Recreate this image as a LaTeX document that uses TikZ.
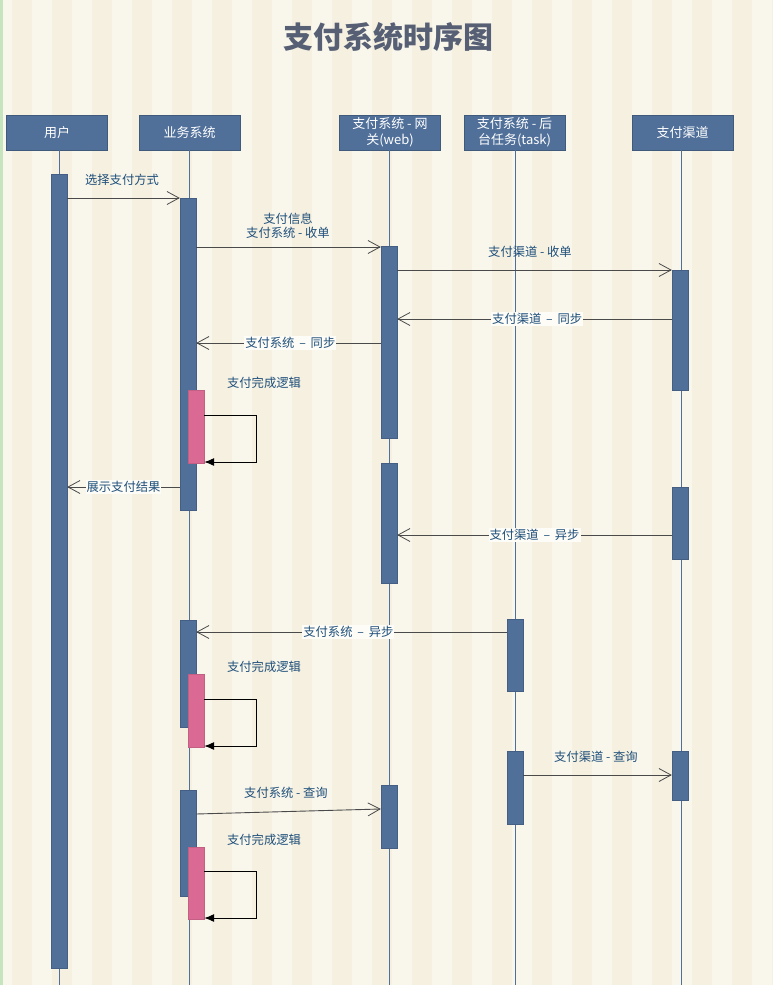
\documentclass[tikz,border=0pt]{standalone}
\usepackage{fontspec}
\setmainfont{Noto Sans CJK SC}
\usetikzlibrary{arrows.meta}
\definecolor{bgc}{HTML}{F9F7EC}
\definecolor{stripec}{HTML}{F5F0E0}
\definecolor{boxc}{HTML}{50709A}
\definecolor{pinkc}{HTML}{DA6A93}
\definecolor{txtc}{HTML}{1F4F7A}
\definecolor{titlec}{HTML}{565F74}
\definecolor{msgc}{HTML}{4A4A4A}
\definecolor{edgec}{HTML}{C6E4BE}
\tikzset{
  head/.style={draw=boxc!80!black, line width=0.6pt, fill=boxc, text=white, minimum width=101pt, minimum height=35pt, inner sep=1pt, align=center, font=\fontsize{13}{15.5}\selectfont},
  bar/.style={fill=boxc, draw=boxc!85!black, line width=0.4pt, minimum width=16pt, inner sep=0pt, anchor=north},
  pbar/.style={fill=pinkc, draw=pinkc!90!black, line width=0.4pt, minimum width=16pt, inner sep=0pt, anchor=north},
  life/.style={draw=boxc, line width=0.8pt},
  msg/.style={draw=msgc, line width=0.9pt, -{Straight Barb[length=12pt,width=13pt,line width=0.8pt]}},
  selfmsg/.style={draw=black, line width=0.9pt, -{Latex[length=10pt,width=8pt]}},
  lbl/.style={text=txtc, font=\fontsize{12.3}{14.5}\selectfont, inner sep=1pt},
  ilbl/.style={lbl, fill=bgc!40!white}
}
\begin{document}
\begin{tikzpicture}[x=1pt,y=-1pt]
\useasboundingbox (0,0) rectangle (772,985);
\fill[bgc] (0,0) rectangle (772,985);
\foreach \s in {12,52,...,772} {\fill[stripec] (\s,0) rectangle (\s+20,985);}
\fill[edgec] (0,0) rectangle (2.5,985);
% title
\node[text=titlec, font=\fontsize{30}{34}\bfseries\selectfont] (title) at (388,37) {支付系统时序图};
% headers
\node[head] (hu) at (57,132.5) {用户};
\node[head] (hb) at (189.5,132.5) {业务系统};
\node[head] (hg) at (390,132.5) {支付系统 - 网\\关(web)};
\node[head] (ht) at (514.5,132.5) {支付系统 - 后\\台任务(task)};
\node[head] (hc) at (682.5,132.5) {支付渠道};
% lifelines
\coordinate (eu) at (59,985);
\coordinate (eb) at (189,985);
\coordinate (eg) at (389,985);
\coordinate (et) at (515,985);
\coordinate (ec) at (681,985);
\draw[life] (hu.south -| eu) -- (eu);
\draw[life] (hb.south -| eb) -- (eb);
\draw[life] (hg.south -| eg) -- (eg);
\draw[life] (ht.south -| et) -- (et);
\draw[life] (hc.south -| ec) -- (ec);
% activation bars
\node[bar, minimum height=794pt] (u1) at (59,174) {};
\node[bar, minimum height=312pt] (b1) at (188,198) {};
\node[bar, minimum height=107pt] (b2) at (188,620) {};
\node[bar, minimum height=106pt] (b3) at (188,790) {};
\node[bar, minimum height=192pt] (g1) at (389,246) {};
\node[bar, minimum height=120pt] (g2) at (389,463) {};
\node[bar, minimum height=63pt] (g3) at (389,785) {};
\node[bar, minimum height=72pt] (t1) at (515,619) {};
\node[bar, minimum height=73pt] (t2) at (515,751) {};
\node[bar, minimum height=120pt] (c1) at (680,270) {};
\node[bar, minimum height=72pt] (c2) at (680,487) {};
\node[bar, minimum height=49pt] (c3) at (680,751) {};
\node[pbar, minimum height=73pt] (p1) at (196,390) {};
\node[pbar, minimum height=73pt] (p2) at (196,674) {};
\node[pbar, minimum height=72pt] (p3) at (196,847) {};
% loop corners
\coordinate (k1) at (256,0);
% messages
\draw[msg] (u1.east |- 0,198) -- (b1.west |- 0,198);
\node[lbl] (l1) at (122,180) {选择支付方式};
\draw[msg] (b1.east |- 0,247) -- (g1.west |- 0,247);
\node[lbl, align=center] (l2) at (288,226) {支付信息\\支付系统 - 收单};
\draw[msg] (g1.east |- 0,270) -- (c1.west |- 0,270);
\node[lbl] (l3) at (530,252) {支付渠道 - 收单};
\draw[msg] (c1.west |- 0,319) -- node[ilbl, pos=0.49] (l4) {支付渠道 \,–\, 同步} (g1.east |- 0,319);
\draw[msg] (g1.west |- 0,343) -- node[ilbl, pos=0.49] (l5) {支付系统 \,–\, 同步} (b1.east |- 0,343);
\node[lbl] (l6) at (264,383) {支付完成逻辑};
\draw[selfmsg] (p1.east |- 0,415) -- (k1 |- 0,415) -- (k1 |- 0,462) -- (p1.east |- 0,462);
\draw[msg] (b1.west |- 0,487) -- node[ilbl, pos=0.5] (l7) {展示支付结果} (u1.east |- 0,487);
\draw[msg] (c2.west |- 0,535) -- node[ilbl, pos=0.50] (l8) {支付渠道 \,–\, 异步} (g2.east |- 0,535);
\draw[msg] (t1.west |- 0,632) -- node[ilbl, pos=0.51] (l9) {支付系统 \,–\, 异步} (b2.east |- 0,632);
\node[lbl] (l10) at (264,667) {支付完成逻辑};
\draw[selfmsg] (p2.east |- 0,699) -- (k1 |- 0,699) -- (k1 |- 0,746) -- (p2.east |- 0,746);
\draw[msg] (t2.east |- 0,775) -- (c3.west |- 0,775);
\node[lbl] (l11) at (596,757) {支付渠道 - 查询};
\draw[msg] (b3.east |- 0,814) -- (g3.west |- 0,809);
\node[lbl] (l12) at (286,793) {支付系统 - 查询};
\node[lbl] (l13) at (264,840) {支付完成逻辑};
\draw[selfmsg] (p3.east |- 0,871) -- (k1 |- 0,871) -- (k1 |- 0,918) -- (p3.east |- 0,918);
\end{tikzpicture}
\end{document}
